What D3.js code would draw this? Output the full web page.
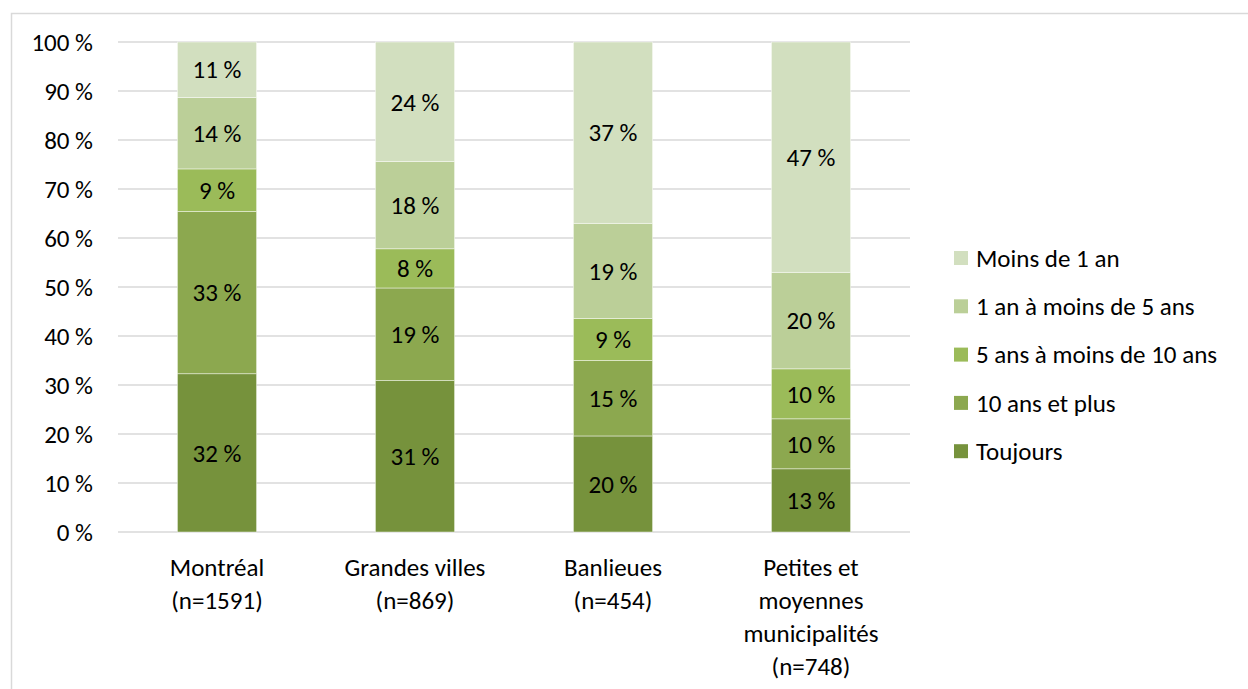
<!DOCTYPE html>
<html>
<head>
<meta charset="utf-8">
<script src="https://cdn.jsdelivr.net/npm/d3@7"></script>
<style>
  body { margin: 0; background: #fff; }
  svg { display: block; }
  text { font-family: Carlito, Calibri, Lato, "Open Sans", sans-serif; fill: #000; }
</style>
</head>
<body>
<div id="chart"></div>
<script>
// categories, bottom segment first
const categories = [
    ["Montréal", "(n=1591)"],
    ["Grandes villes", "(n=869)"],
    ["Banlieues", "(n=454)"],
    ["Petites et", "moyennes", "municipalités", "(n=748)"]
];
const seriesNames = ["Toujours", "10 ans et plus", "5 ans à moins de 10 ans", "1 an à moins de 5 ans", "Moins de 1 an"];

// values per series, one per category
const toujours   = [32.3, 30.9, 19.6, 12.9];
const dixPlus    = [33.1, 18.9, 15.4, 10.2];
const cinqDix    = [8.7, 8.0, 8.6, 10.2];
const unCinq     = [14.6, 17.8, 19.4, 19.7];
const moinsUn    = [11.3, 24.4, 37.0, 47.0];

// printed labels
const labToujours = [32, 31, 20, 13];
const labDixPlus  = [33, 19, 15, 10];
const labCinqDix  = [9, 8, 9, 10];
const labUnCinq   = [14, 18, 19, 20];
const labMoinsUn  = [11, 24, 37, 47];

const yTicks = [0, 10, 20, 30, 40, 50, 60, 70, 80, 90, 100];

const colors = ['#76923c', '#8ca84f', '#9bbb59', '#bbcf98', '#d2dfbf'];

const seriesValues = [toujours, dixPlus, cinqDix, unCinq, moinsUn];
const seriesLabels = [labToujours, labDixPlus, labCinqDix, labUnCinq, labMoinsUn];

const fontSize = '25px';
const width = 1248, height = 689;
const margin = { top: 42, left: 118, right: 338, bottom: 157 };

const svg = d3.select('#chart').append('svg')
    .attr('width', width)
    .attr('height', height);

// outer chart border (only top and left are visible)
svg.append('path')
    .attr('d', `M11.5,${height} V13.5 H${width}`)
    .attr('fill', 'none')
    .attr('stroke', '#d9d9d9')
    .attr('stroke-width', 1.5);

const xScale = d3.scaleBand()
    .domain(d3.range(categories.length))
    .range([margin.left, width - margin.right])
    .paddingInner(0.6)
    .paddingOuter(0.3);

const yScale = d3.scaleLinear()
    .domain([0, 100])
    .range([height - margin.bottom, margin.top]);

// gridlines
svg.append('g')
    .selectAll('line')
    .data(yTicks)
    .join('line')
    .attr('x1', margin.left)
    .attr('x2', width - margin.right)
    .attr('y1', d => yScale(d))
    .attr('y2', d => yScale(d))
    .attr('stroke', '#d9d9d9')
    .attr('stroke-width', 1.5);

// y axis labels
const yAxis = d3.axisLeft(yScale)
    .tickValues(yTicks)
    .tickSize(0)
    .tickPadding(0)
    .tickFormat(d => `${d} %`);

const yG = svg.append('g')
    .attr('transform', `translate(93,0)`)
    .call(yAxis);
yG.select('.domain').remove();
yG.selectAll('text')
    .style('font-size', fontSize)
    .attr('dy', '0.35em');

// stack data
const rows = categories.map((c, i) => {
    const r = { idx: i };
    seriesNames.forEach((s, k) => r[s] = seriesValues[k][i]);
    return r;
});
const stacked = d3.stack().keys(seriesNames)(rows);

const layers = svg.append('g')
    .selectAll('g')
    .data(stacked)
    .join('g')
    .attr('fill', (d, k) => colors[k]);

layers.selectAll('rect')
    .data(d => d)
    .join('rect')
    .attr('x', d => xScale(d.data.idx))
    .attr('width', xScale.bandwidth())
    .attr('y', d => yScale(d[1]))
    .attr('height', d => yScale(d[0]) - yScale(d[1]))
    .attr('stroke', '#ffffff')
    .attr('stroke-opacity', 0.6)
    .attr('stroke-width', 0.75);

// segment labels
layers.each(function (layer, k) {
    d3.select(this).selectAll('text')
        .data(layer)
        .join('text')
        .attr('x', d => xScale(d.data.idx) + xScale.bandwidth() / 2)
        .attr('y', d => yScale((d[0] + d[1]) / 2))
        .attr('dy', '0.35em')
        .attr('text-anchor', 'middle')
        .style('font-size', fontSize)
        .style('fill', '#000')
        .text((d, i) => `${seriesLabels[k][i]} %`);
});

// x labels
const xG = svg.append('g');
categories.forEach((lines, i) => {
    const t = xG.append('text')
        .attr('text-anchor', 'middle')
        .style('font-size', fontSize);
    lines.forEach((line, j) => {
        t.append('tspan')
            .attr('x', xScale(i) + xScale.bandwidth() / 2)
            .attr('y', 576 + j * 33)
            .text(line);
    });
});

// legend, top item is the last series
const legendOrder = seriesNames.map((s, k) => ({ name: s, color: colors[k] })).reverse();
const legend = svg.append('g')
    .attr('transform', 'translate(954, 258)');

const items = legend.selectAll('g')
    .data(legendOrder)
    .join('g')
    .attr('transform', (d, i) => `translate(0, ${i * 48.3})`);

items.append('rect')
    .attr('x', 0)
    .attr('y', -7)
    .attr('width', 14)
    .attr('height', 14)
    .attr('fill', d => d.color);

items.append('text')
    .attr('x', 22)
    .attr('y', 0)
    .attr('dy', '0.35em')
    .style('font-size', fontSize)
    .text(d => d.name);
</script>
</body>
</html>
